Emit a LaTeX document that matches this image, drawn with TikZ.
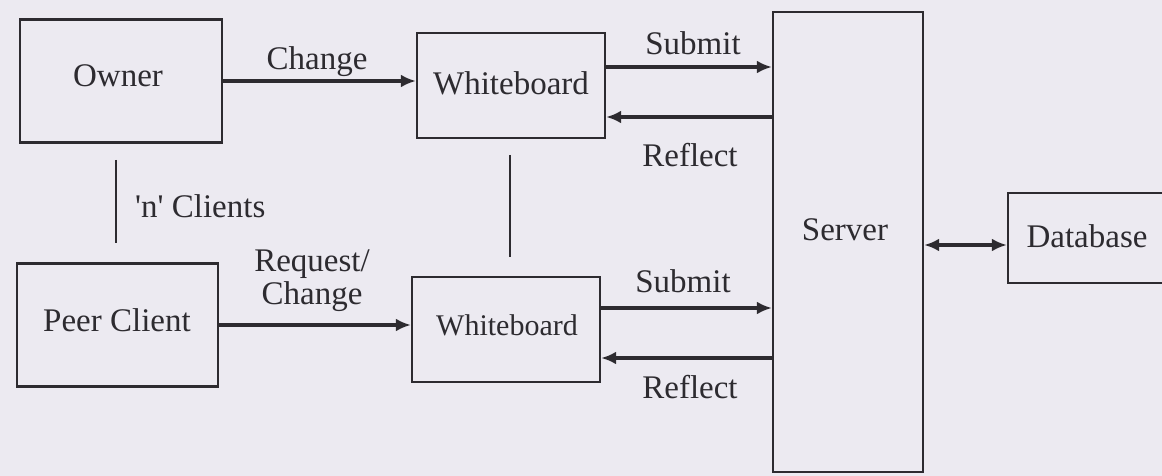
\documentclass[tikz,border=0pt]{standalone}
\usepackage{fontspec}
\setmainfont{Liberation Serif}
\usetikzlibrary{arrows.meta}
\definecolor{bg}{RGB}{236,234,241}
\definecolor{ink}{RGB}{45,43,48}
\tikzset{
  box/.style={draw=ink, line width=2.4pt, rectangle, inner sep=0pt, text=ink},
  lbl/.style={text=ink, inner sep=0pt, font=\fontsize{33}{38}\selectfont},
  arr/.style={draw=ink, line width=3.4pt, -{Latex[length=15pt,width=13pt]}},
  darr/.style={draw=ink, line width=3.4pt, {Latex[length=15pt,width=13pt]}-{Latex[length=15pt,width=13pt]}},
  link/.style={draw=ink, line width=1.8pt}
}
\begin{document}
\begin{tikzpicture}[x=1pt,y=-1pt]
\useasboundingbox (0,0) rectangle (1162,476);
\fill[bg] (0,0) rectangle (1162,476);
\clip (0,0) rectangle (1162,476);
\node[box, minimum width=202pt, minimum height=123pt] (owner) at (121,81) {};
\node[lbl] at (118,76) {Owner};
\node[box, minimum width=188pt, minimum height=105pt] (wb1) at (511,85.5) {};
\node[lbl] at (511,83) {Whiteboard};
\node[box, minimum width=150pt, minimum height=460pt] (server) at (848,242) {};
\node[lbl] at (845,230) {Server};
\node[box, minimum width=160pt, minimum height=90pt] (db) at (1088,238) {};
\node[lbl] at (1087,236) {Database};
\node[box, minimum width=201pt, minimum height=123pt] (peer) at (117.5,325) {};
\node[lbl] at (117,320) {Peer Client};
\node[box, minimum width=188pt, minimum height=105pt] (wb2) at (506,329.5) {};
\node[lbl, font=\fontsize{30}{36}\selectfont] at (507,325) {Whiteboard};

\draw[arr] (owner.east) -- (owner.east -| wb1.west);
\draw[arr] ([yshift=18.5pt]wb1.east) -- ([yshift=18.5pt]wb1.east -| server.west);
\draw[arr] ([yshift=-31.5pt]wb1.east -| server.west) -- ([yshift=-31.5pt]wb1.east);
\draw[arr] (peer.east) -- (peer.east -| wb2.west);
\draw[arr] ([yshift=21.5pt]wb2.east) -- ([yshift=21.5pt]wb2.east -| server.west);
\draw[arr] ([yshift=-28.5pt]wb2.east -| server.west) -- ([yshift=-28.5pt]wb2.east);
\draw[darr] ([yshift=-3pt]server.east) -- ([yshift=-3pt]server.east -| db.west);

\coordinate (v1a) at (116,160);
\coordinate (v1b) at (116,243);
\coordinate (v2a) at (510,155);
\coordinate (v2b) at (510,257);
\draw[link] (v1a) -- (v1b);
\draw[link] (v2a) -- (v2b);

\node[lbl] at (317,62) {Change};
\node[lbl, anchor=west] at (135,206) {\textquotesingle n\textquotesingle\ Clients};
\node[lbl] at (693,43) {Submit};
\node[lbl] at (690,155) {Reflect};
\node[lbl] at (683,281) {Submit};
\node[lbl] at (690,387) {Reflect};
\node[lbl] at (312,264) {Request/};
\node[lbl] at (312,297) {Change};
\end{tikzpicture}
\end{document}
